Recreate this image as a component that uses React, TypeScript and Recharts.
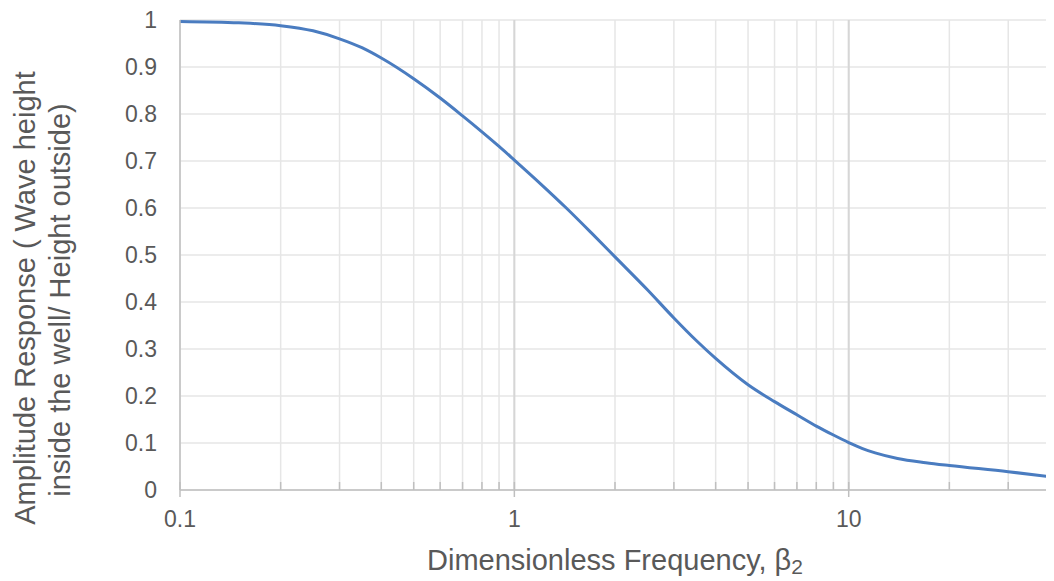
import React from 'react';
import { LineChart, Line, XAxis, YAxis, CartesianGrid, ReferenceLine } from 'recharts';

const betaValues = [0.1, 0.15, 0.2, 0.25, 0.3, 0.35, 0.4, 0.5, 0.6, 0.7, 0.8, 0.9, 1, 1.2, 1.43, 1.7, 2, 2.5, 3, 3.5, 4, 5, 6, 7, 8, 9, 10, 11, 12, 14, 17, 20, 30, 40];
const amplitudeValues = [0.997, 0.994, 0.988, 0.977, 0.96, 0.941, 0.919, 0.875, 0.834, 0.796, 0.762, 0.731, 0.702, 0.651, 0.6, 0.547, 0.496, 0.426, 0.366, 0.318, 0.28, 0.224, 0.188, 0.16, 0.136, 0.117, 0.101, 0.088, 0.079, 0.067, 0.058, 0.052, 0.039, 0.028];

const xTicks = [0.1, 0.2, 0.3, 0.4, 0.5, 0.6, 0.7, 0.8, 0.9, 1, 2, 3, 4, 5, 6, 7, 8, 9, 10, 20, 30, 40];
const xMajorTicks = [0.1, 1, 10];
const yTicks = [0, 0.1, 0.2, 0.3, 0.4, 0.5, 0.6, 0.7, 0.8, 0.9, 1];

const yTitleLine1 = 'Amplitude Response ( Wave height';
const yTitleLine2 = 'inside the well/ Height outside)';
const xTitle = 'Dimensionless Frequency, ';
const xTitleSymbol = 'β';
const xTitleSub = '2';

const data = betaValues.map((b, i) => ({ beta: b, amp: amplitudeValues[i] }));

const W = 1046;
const H = 573;
const FONT = '"Liberation Sans", Arial, sans-serif';
const TEXT = '#595959';
const AXIS = '#bfbfbf';

function XTick(props: any) {
  const { x, y, payload } = props;
  const v = payload.value;
  const major = xMajorTicks.includes(v);
  return (
    <g>
      <line x1={x} x2={x} y1={y - 8} y2={major ? y + 7 : y} stroke={AXIS} strokeWidth={1.5} />
      {major && (
        <text x={x} y={y + 37} textAnchor="middle" fill={TEXT} fontSize={23} fontFamily={FONT}>
          {String(v)}
        </text>
      )}
    </g>
  );
}

export default function App() {
  return (
    <div style={{ position: 'relative', width: W, height: H, background: '#fff' }}>
      <LineChart width={W} height={H} data={data} margin={{ top: 12, right: 4, left: 0, bottom: 0 }}>
        <CartesianGrid stroke="#e6e6e6" strokeWidth={1.5} />
        <ReferenceLine x={1} stroke="#d6d6d6" strokeWidth={2} />
        <ReferenceLine x={10} stroke="#d6d6d6" strokeWidth={2} />
        <XAxis
          dataKey="beta"
          type="number"
          scale="log"
          domain={[0.1, 40]}
          ticks={xTicks}
          allowDataOverflow
          height={91}
          tickSize={0}
          tickMargin={0}
          tickLine={false}
          tick={XTick}
          interval={0}
          axisLine={{ stroke: AXIS, strokeWidth: 1.5 }}
        />
        <YAxis
          type="number"
          domain={[0, 1]}
          ticks={yTicks}
          width={172}
          tickSize={0}
          tickMargin={23}
          tickLine={false}
          interval={0}
          axisLine={{ stroke: AXIS, strokeWidth: 1.5 }}
          tick={{ fill: TEXT, fontSize: 23, fontFamily: FONT }}
          tickFormatter={(v: number) => String(v)}
        />
        <Line
          dataKey="amp"
          type="monotone"
          stroke="#4a7cc0"
          strokeWidth={3}
          dot={false}
          isAnimationActive={false}
        />
      </LineChart>
      <svg width={W} height={H} style={{ position: 'absolute', left: 0, top: 0, pointerEvents: 'none' }}>
        <text
          x={27}
          y={290}
          transform="rotate(-90 27 290)"
          textAnchor="middle"
          fill={TEXT}
          fontSize={29}
          fontFamily={FONT}
        >
          {yTitleLine1}
        </text>
        <text
          x={62}
          y={292}
          transform="rotate(-90 62 292)"
          textAnchor="middle"
          fill={TEXT}
          fontSize={29}
          fontFamily={FONT}
        >
          {yTitleLine2}
        </text>
        <text x={607} y={562} textAnchor="middle" fill={TEXT} fontSize={29} fontFamily={FONT}>
          {xTitle}
          <tspan>{xTitleSymbol}</tspan>
          <tspan fontSize={21} dy={4}>{xTitleSub}</tspan>
        </text>
      </svg>
    </div>
  );
}
